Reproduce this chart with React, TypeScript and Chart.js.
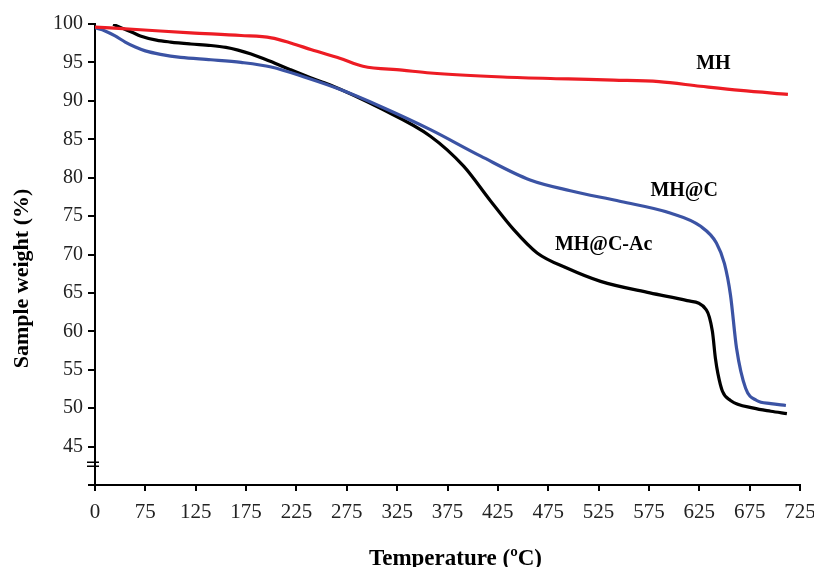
import React, { useEffect, useRef } from 'react';
import { Chart, registerables } from 'chart.js';

Chart.register(...registerables);

// ---- Data (temperature in °C, sample weight in %) ----
const mhX = [25, 70, 120, 170, 200, 220, 240, 268, 291, 330, 358, 430, 495, 540, 585, 626, 666, 713];
const mhY = [99.6, 99.25, 98.85, 98.5, 98.2, 97.5, 96.65, 95.55, 94.5, 94.0, 93.62, 93.1, 92.85, 92.7, 92.5, 91.9, 91.35, 90.85];

const mhcX = [25, 35, 45, 55, 65, 75, 90, 110, 140, 170, 200, 235, 268, 308, 358, 408, 457, 497, 547, 596, 626, 642, 650, 656, 662, 671, 682, 696, 711];
const mhcY = [99.5, 99.1, 98.45, 97.65, 97.0, 96.5, 96.05, 95.65, 95.35, 95.0, 94.4, 93.0, 91.5, 89.3, 86.25, 82.8, 79.7, 78.3, 76.9, 75.4, 73.7, 71.5, 68.8, 64.7, 57.8, 52.6, 51.0, 50.6, 50.35];

const mhcaX = [43, 53, 63, 70, 86, 100, 120, 140, 155, 167, 180, 199, 219, 239, 258, 308, 358, 391, 417, 441, 464, 494, 527, 576, 613, 632, 638, 641, 643.5, 648, 656, 679, 696, 712];
const mhcaY = [99.95, 99.4, 98.85, 98.45, 97.9, 97.65, 97.4, 97.2, 96.95, 96.6, 96.1, 95.15, 94.05, 93.0, 92.1, 89.05, 85.4, 81.5, 77.1, 73.2, 70.2, 68.2, 66.5, 65.0, 64.0, 62.8, 60.0, 56.5, 54.5, 52.2, 51.0, 50.0, 49.6, 49.3];

const seriesNames = ['MH', 'MH@C', 'MH@C-Ac'];
const seriesColors = ['#ED1C24', '#3B53A4', '#000000'];

// in-plot series labels (data coordinates)
const labelX = [639, 610, 530];
const labelY = [94.8, 78.3, 71.3];

// axes
const xAxisMin = 25;
const xAxisMax = 725;
const xStep = 50;
const xFirstLabel = '0';
const yAxisMin = 40;
const yAxisMax = 100;
const yStep = 5;
const axisBreakAt = 42.7;

const xTitle = 'Temperature (ºC)';
const yTitle = 'Sample weight (%)';

const serif = '"Liberation Serif", "Times New Roman", serif';

const toPoints = (xs: number[], ys: number[]) => xs.map((x, i) => ({ x, y: ys[i] }));

const overlayPlugin = {
  id: 'overlay',
  afterDraw(chart: any) {
    const { ctx, chartArea } = chart;
    const xs = chart.scales.x;
    const ys = chart.scales.y;
    ctx.save();
    ctx.fillStyle = '#000';
    // series labels
    ctx.font = `bold 20px ${serif}`;
    ctx.textAlign = 'center';
    ctx.textBaseline = 'middle';
    seriesNames.forEach((t, i) => {
      ctx.fillText(t, xs.getPixelForValue(labelX[i]), ys.getPixelForValue(labelY[i]));
    });
    // axis break mark
    const bx = chartArea.left;
    const by = ys.getPixelForValue(axisBreakAt);
    ctx.strokeStyle = '#000';
    ctx.lineWidth = 1.3;
    ctx.beginPath();
    ctx.moveTo(bx - 8, by - 2);
    ctx.lineTo(bx + 4, by - 2);
    ctx.moveTo(bx - 8, by + 2);
    ctx.lineTo(bx + 4, by + 2);
    ctx.stroke();
    // x title
    ctx.font = `bold 23px ${serif}`;
    ctx.textAlign = 'center';
    ctx.textBaseline = 'alphabetic';
    ctx.fillText(xTitle, (chartArea.left + chartArea.right) / 2 + 8, 565);
    // y title
    ctx.font = `bold 22px ${serif}`;
    ctx.translate(22, (chartArea.top + chartArea.bottom) / 2 + 24);
    ctx.rotate(-Math.PI / 2);
    ctx.textBaseline = 'middle';
    ctx.fillText(yTitle, 0, 0);
    ctx.restore();
  },
};

export default function App() {
  const canvasRef = useRef<HTMLCanvasElement | null>(null);

  useEffect(() => {
    if (!canvasRef.current) return;
    const tickFont = { family: serif, size: 21 };
    const chart = new Chart(canvasRef.current, {
      type: 'line',
      data: {
        datasets: [
          { label: seriesNames[0], data: toPoints(mhX, mhY), borderColor: seriesColors[0] },
          { label: seriesNames[1], data: toPoints(mhcX, mhcY), borderColor: seriesColors[1] },
          { label: seriesNames[2], data: toPoints(mhcaX, mhcaY), borderColor: seriesColors[2] },
        ].map((d) => ({
          ...d,
          borderWidth: 3.2,
          pointRadius: 0,
          fill: false,
          cubicInterpolationMode: 'monotone' as const,
        })),
      },
      options: {
        animation: false,
        responsive: false,
        devicePixelRatio: 1,
        layout: { padding: { left: 0, right: 14, top: 24, bottom: 0 } },
        plugins: { legend: { display: false }, tooltip: { enabled: false } },
        scales: {
          x: {
            type: 'linear',
            min: xAxisMin,
            max: xAxisMax,
            ticks: {
              stepSize: xStep,
              autoSkip: false,
              maxRotation: 0,
              font: tickFont,
              color: '#222',
              padding: 9,
              callback: (v: any) => (v === xAxisMin ? xFirstLabel : String(v)),
            },
            grid: { display: true, drawOnChartArea: false, drawTicks: true, tickLength: 6, color: '#000', lineWidth: 2 },
            border: { display: true, color: '#000', width: 2 },
            afterFit: (s: any) => {
              s.height = 82;
              s.paddingLeft = 0;
              s.paddingRight = 0;
            },
          },
          y: {
            type: 'linear',
            min: yAxisMin,
            max: yAxisMax,
            ticks: {
              stepSize: yStep,
              font: { family: serif, size: 20 },
              color: '#222',
              padding: 5,
              callback: (v: any) => (v === yAxisMin ? '' : String(v)),
            },
            grid: { display: true, drawOnChartArea: false, drawTicks: true, tickLength: 7, color: '#000', lineWidth: 2 },
            border: { display: true, color: '#000', width: 2 },
            afterFit: (s: any) => {
              s.width = 95;
              s.paddingTop = 0;
              s.paddingBottom = 0;
            },
          },
        },
      },
      plugins: [overlayPlugin],
    });
    return () => chart.destroy();
  }, []);

  return (
    <div style={{ position: 'fixed', left: 0, top: 0, width: 814, height: 567, background: '#fff' }}>
      <canvas ref={canvasRef} width={814} height={567} style={{ display: 'block' }} />
    </div>
  );
}
